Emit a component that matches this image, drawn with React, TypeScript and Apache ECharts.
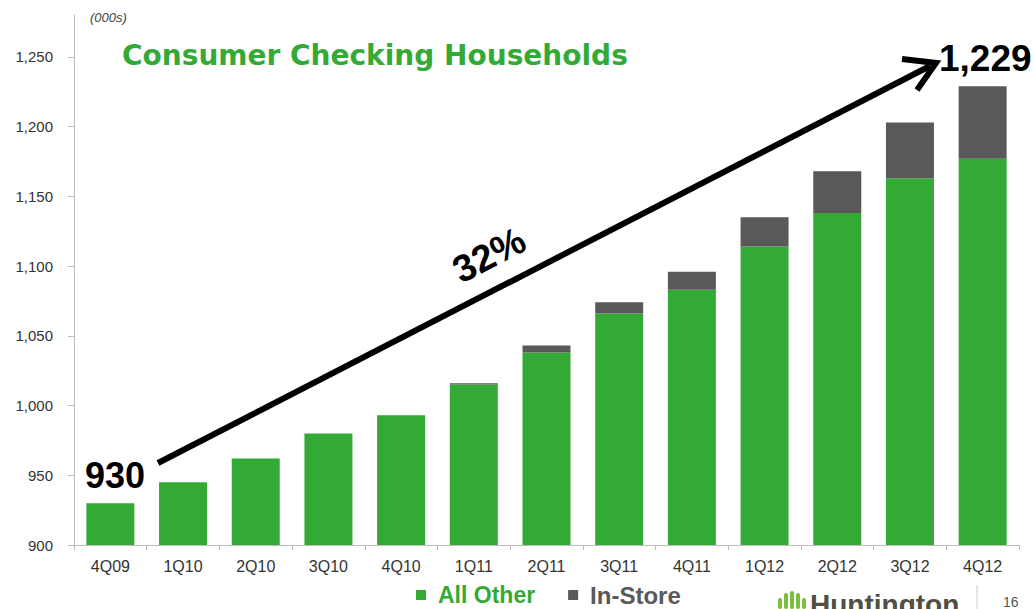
import React, { useEffect, useRef } from "react";
import * as echarts from "echarts";

const categories = ["4Q09", "1Q10", "2Q10", "3Q10", "4Q10", "1Q11", "2Q11", "3Q11", "4Q11", "1Q12", "2Q12", "3Q12", "4Q12"];
const allOther = [930, 945, 962, 980, 993, 1015, 1038, 1066, 1083, 1114, 1138, 1163, 1177];
const inStore = [0, 0, 0, 0, 0, 1, 5, 8, 13, 21, 30, 40, 52];
const yTicks = [900, 950, 1000, 1050, 1100, 1150, 1200, 1250];

const GREEN = "#34aa36";
const GRAY = "#595959";
const FONT = "Liberation Sans, Arial, sans-serif";

export default function App() {
  const ref = useRef<HTMLDivElement>(null);
  useEffect(() => {
    if (!ref.current) return;
    const chart = echarts.init(ref.current, null, { renderer: "svg" });
    const deg = (27.3 * Math.PI) / 180;
    chart.setOption({
      animation: false,
      backgroundColor: "#ffffff",
      grid: { left: 74, right: 14, top: 15, bottom: 64, containLabel: false },
      legend: {
        left: 416,
        top: 583,
        padding: 0,
        icon: "rect",
        itemWidth: 10,
        itemHeight: 10,
        itemGap: 33,
        textStyle: { fontSize: 23, lineHeight: 24, fontWeight: "bold", fontFamily: FONT, padding: [0, 0, 0, 7] },
        data: [
          { name: "All Other", textStyle: { color: GREEN } },
          { name: "In-Store", textStyle: { color: GRAY, fontSize: 24 } },
        ],
      },
      xAxis: {
        type: "category",
        data: categories,
        axisLine: { lineStyle: { color: "#bdbdbd" } },
        axisTick: { show: true, length: 5, lineStyle: { color: "#bdbdbd" } },
        axisLabel: { color: "#333", fontSize: 16, margin: 13, fontFamily: FONT },
      },
      yAxis: {
        type: "value",
        min: 900,
        max: 1280,
        splitLine: { show: false },
        axisLine: { show: true, lineStyle: { color: "#bdbdbd" } },
        axisTick: { show: true, length: 6, lineStyle: { color: "#bdbdbd" }, customValues: yTicks },
        axisLabel: {
          color: "#333",
          fontSize: 15,
          margin: 21,
          fontFamily: FONT,
          customValues: yTicks,
          formatter: (v: number) => v.toLocaleString("en-US"),
        },
      },
      series: [
        {
          name: "All Other",
          type: "bar",
          stack: "total",
          barWidth: 48,
          itemStyle: { color: GREEN },
          data: allOther,
        },
        {
          name: "In-Store",
          type: "bar",
          stack: "total",
          barWidth: 48,
          itemStyle: { color: GRAY },
          data: inStore,
        },
      ],
      graphic: [
        {
          type: "text",
          left: 90,
          top: 11,
          style: { text: "(000s)", fontSize: 13, fontStyle: "italic", fill: "#444", fontFamily: FONT },
        },
        {
          type: "text",
          x: 122,
          y: 55,
          style: {
            text: "Consumer Checking Households",
            fontSize: 28,
            fontWeight: "bold",
            fill: GREEN,
            fontFamily: "DejaVu Sans, sans-serif",
            textVerticalAlign: "middle",
          },
        },
        {
          type: "line",
          shape: { x1: 158, y1: 463, x2: 930, y2: 66 },
          style: { stroke: "#000", lineWidth: 6 },
        },
        {
          type: "polyline",
          shape: { points: [[902, 59], [936, 63], [917, 90]] },
          style: { stroke: "#000", lineWidth: 6, fill: "none", lineJoin: "miter" },
        },
        {
          type: "text",
          x: 115,
          y: 475,
          style: {
            text: "930",
            fontSize: 36,
            fontWeight: "bold",
            fill: "#000",
            fontFamily: FONT,
            textAlign: "center",
            textVerticalAlign: "middle",
          },
        },
        {
          type: "text",
          x: 939,
          y: 58,
          style: {
            text: "1,229",
            fontSize: 37,
            fontWeight: "bold",
            fill: "#000",
            fontFamily: FONT,
            textAlign: "left",
            textVerticalAlign: "middle",
          },
        },
        {
          type: "text",
          x: 489,
          y: 255,
          rotation: deg,
          style: {
            text: "32%",
            fontSize: 38,
            fontWeight: "bold",
            fill: "#000",
            fontFamily: FONT,
            textAlign: "center",
            textVerticalAlign: "middle",
          },
        },
        {
          type: "group",
          children: [
            { type: "rect", shape: { x: 778, y: 598, width: 4, height: 11, r: 2 }, style: { fill: "#7cbf3a" } },
            { type: "rect", shape: { x: 784, y: 593, width: 4, height: 16, r: 2 }, style: { fill: "#7cbf3a" } },
            { type: "rect", shape: { x: 790, y: 591, width: 4, height: 18, r: 2 }, style: { fill: "#7cbf3a" } },
            { type: "rect", shape: { x: 796, y: 593, width: 4, height: 16, r: 2 }, style: { fill: "#7cbf3a" } },
            { type: "rect", shape: { x: 802, y: 598, width: 4, height: 11, r: 2 }, style: { fill: "#7cbf3a" } },
          ],
        },
        {
          type: "text",
          x: 810,
          y: 604,
          style: {
            text: "Huntington",
            fontSize: 28,
            fontWeight: "bold",
            fill: "#4f4f42",
            fontFamily: FONT,
            textVerticalAlign: "middle",
          },
        },
        {
          type: "line",
          shape: { x1: 977, y1: 585, x2: 977, y2: 609 },
          style: { stroke: "#cccccc", lineWidth: 1 },
        },
        {
          type: "text",
          x: 1003,
          y: 602,
          style: {
            text: "16",
            fontSize: 14,
            fill: "#555",
            fontFamily: FONT,
            textVerticalAlign: "middle",
          },
        },
      ],
    });
    return () => chart.dispose();
  }, []);
  return (
    <div
      ref={ref}
      style={{ position: "fixed", left: 0, top: 0, width: 1033, height: 609 }}
    />
  );
}
